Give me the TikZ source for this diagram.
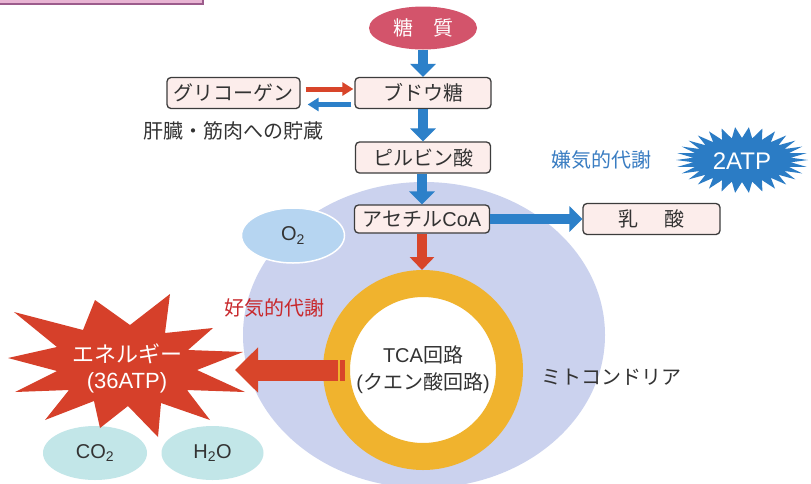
\documentclass[tikz,border=0pt]{standalone}
\usepackage{fontspec}
\setmainfont{Noto Sans CJK JP}
\newfontfamily\lat{Liberation Sans}
\usetikzlibrary{arrows.meta,shapes.geometric,calc}
\newcommand{\fsz}[1]{\fontsize{#1}{#1}\selectfont}
\definecolor{boxfill}{HTML}{FCEDEB}
\definecolor{boxline}{HTML}{3C3C3C}
\definecolor{txt}{HTML}{333333}
\definecolor{ablue}{HTML}{2C80C9}
\definecolor{ared}{HTML}{D8452A}
\definecolor{sugarc}{HTML}{D3546B}
\definecolor{lav}{HTML}{CBD2EE}
\definecolor{ringc}{HTML}{F0B32E}
\definecolor{oxy}{HTML}{B6D5F1}
\definecolor{gasfill}{HTML}{C2E6E8}
\definecolor{tblue}{HTML}{3A7DC2}
\definecolor{tred}{HTML}{C8282C}
\definecolor{starblue}{HTML}{2B7CC5}
\definecolor{starred}{HTML}{D6402A}
\definecolor{tagfill}{HTML}{E8B4D3}
\definecolor{tagline}{HTML}{9C5C8C}
\begin{document}
\begin{tikzpicture}[x=1pt,y=-1pt,
  box/.style={draw=boxline, line width=1.3pt, fill=boxfill, rounded corners=4pt,
    minimum width=136pt, minimum height=31pt, inner sep=0pt, font=\fsz{20}, text=txt},
  barrow/.style={draw=ablue, line width=10pt, -{Triangle[width=25pt,length=13pt]}},
  rarrow/.style={draw=ared, line width=10pt, -{Triangle[width=24pt,length=13pt]}},
  bigarrow/.style={draw=ared, line width=21pt, -{Triangle[width=44pt,length=23pt]}},
  tra/.style={draw=ared, line width=5pt, -{Triangle[width=13pt,length=11pt]}},
  tba/.style={draw=ablue, line width=5pt, -{Triangle[width=13pt,length=11pt]}},
  gas/.style={ellipse, fill=gasfill, minimum width=104pt, minimum height=54pt, inner sep=0pt,
    font=\lat\fsz{20}, text=txt},
  lbl/.style={font=\fsz{20}, inner sep=0pt}]
\useasboundingbox (0,0) rectangle (811,483);
\clip (0,0) rectangle (811,483);
\fill[white] (0,0) rectangle (811,483);
% tag box at top left
\filldraw[fill=tagfill, draw=tagline, line width=1.5pt] (-5,-20) rectangle (203,4);
% mitochondria
\node[ellipse, fill=lav, minimum width=362pt, minimum height=306pt, inner sep=0pt] (mito) at (424,335) {};
% O2
\node[ellipse, fill=oxy, draw=white, line width=1.5pt, minimum width=103pt, minimum height=55pt,
  inner sep=0pt, font=\lat\fsz{20}, text=txt] (o2) at (293,235.5) {O\textsubscript{2}};
% TCA ring
\node[circle, draw=ringc, line width=27pt, fill=white, minimum size=173pt, inner sep=0pt,
  align=center, font=\fontsize{20}{27}\selectfont, text=txt] (tca) at (423,370)
  {{\lat TCA}回路\\{\lat (}クエン酸回路{\lat )}};
% gases
\node[gas] (co2) at (95,453) {CO\textsubscript{2}};
\node[gas, minimum width=102pt] (h2o) at (212.5,453) {H\textsubscript{2}O};
% energy starburst
\fill[starred] (14,312) -- (83,330) -- (95,300) -- (130,325) -- (170,294) -- (165,333)
  -- (213,328) -- (188,350) -- (243,352) -- (197,370) -- (245,392) -- (187,390)
  -- (210,420) -- (161,403) -- (158,437) -- (128,406) -- (100,428) -- (94,401)
  -- (45,420) -- (69,390) -- (15,392) -- (57,371) -- (8,358) -- (57,347) -- cycle;
\node[align=center, text=white, font=\fontsize{22}{26}\selectfont, inner sep=0pt] (energy) at (127,368)
  {エネルギー\\{\lat (36ATP)}};
% 2ATP starburst
\fill[starblue] plot[samples at={0,...,59}, variable=\k]
  ({742+ifthenelse(mod(\k,2)==0,66,49)*cos(\k*6)}, {160+ifthenelse(mod(\k,2)==0,33,22)*sin(\k*6)}) -- cycle;
\node[text=white, font=\lat\fsz{24}, inner sep=0pt] (atp) at (742,161) {2ATP};
% main column
\node[ellipse, fill=sugarc, minimum width=108pt, minimum height=43pt, inner sep=0pt,
  text=white, font=\fsz{20}] (sugar) at (423,28) {糖\hspace{1em}質};
\node[box] (budou) at (423,93) {ブドウ糖};
\node[box, minimum width=133pt] (glyco) at (233.5,93) {グリコーゲン};
\node[box, minimum width=135pt] (pyr) at (423,157.5) {ピルビン酸};
\node[box, minimum width=135pt, minimum height=28pt] (acetyl) at (422,219) {アセチル{\lat CoA}};
\node[box, minimum width=137pt] (lactic) at (651.5,219) {乳\hspace{1.3em}酸};
% labels
\node[lbl, text=txt] (store) at (233.5,131) {肝臓・筋肉への貯蔵};
\node[lbl, text=tblue] (anaer) at (601,160) {嫌気的代謝};
\node[lbl, text=tred] (aer) at (274,308) {好気的代謝};
\node[lbl, text=txt] (mitolbl) at (611,377) {ミトコンドリア};
% arrows
\draw[barrow] (sugar) -- (budou);
\draw[barrow] (budou) -- (pyr);
\draw[barrow] ($(pyr.south)+(-1,0)$) -- (acetyl);
\draw[barrow] (acetyl) -- (lactic);
\draw[rarrow] (acetyl.south) -- (acetyl.south |- tca.north);
\draw[tra] ($(glyco.east)+(5,-4)$) -- ($(budou.west)+(-1,-4)$);
\draw[tba] ($(budou.west)+(-3,11.5)$) -- ($(glyco.east)+(7,11.5)$);
\coordinate (etip) at (235,370);
\draw[bigarrow] ($(tca.west)+(15,0)$) -- (etip);
\fill[ared] ($(tca.west)+(17,-10.5)$) rectangle ($(tca.west)+(22,10.5)$);
\end{tikzpicture}
\end{document}
